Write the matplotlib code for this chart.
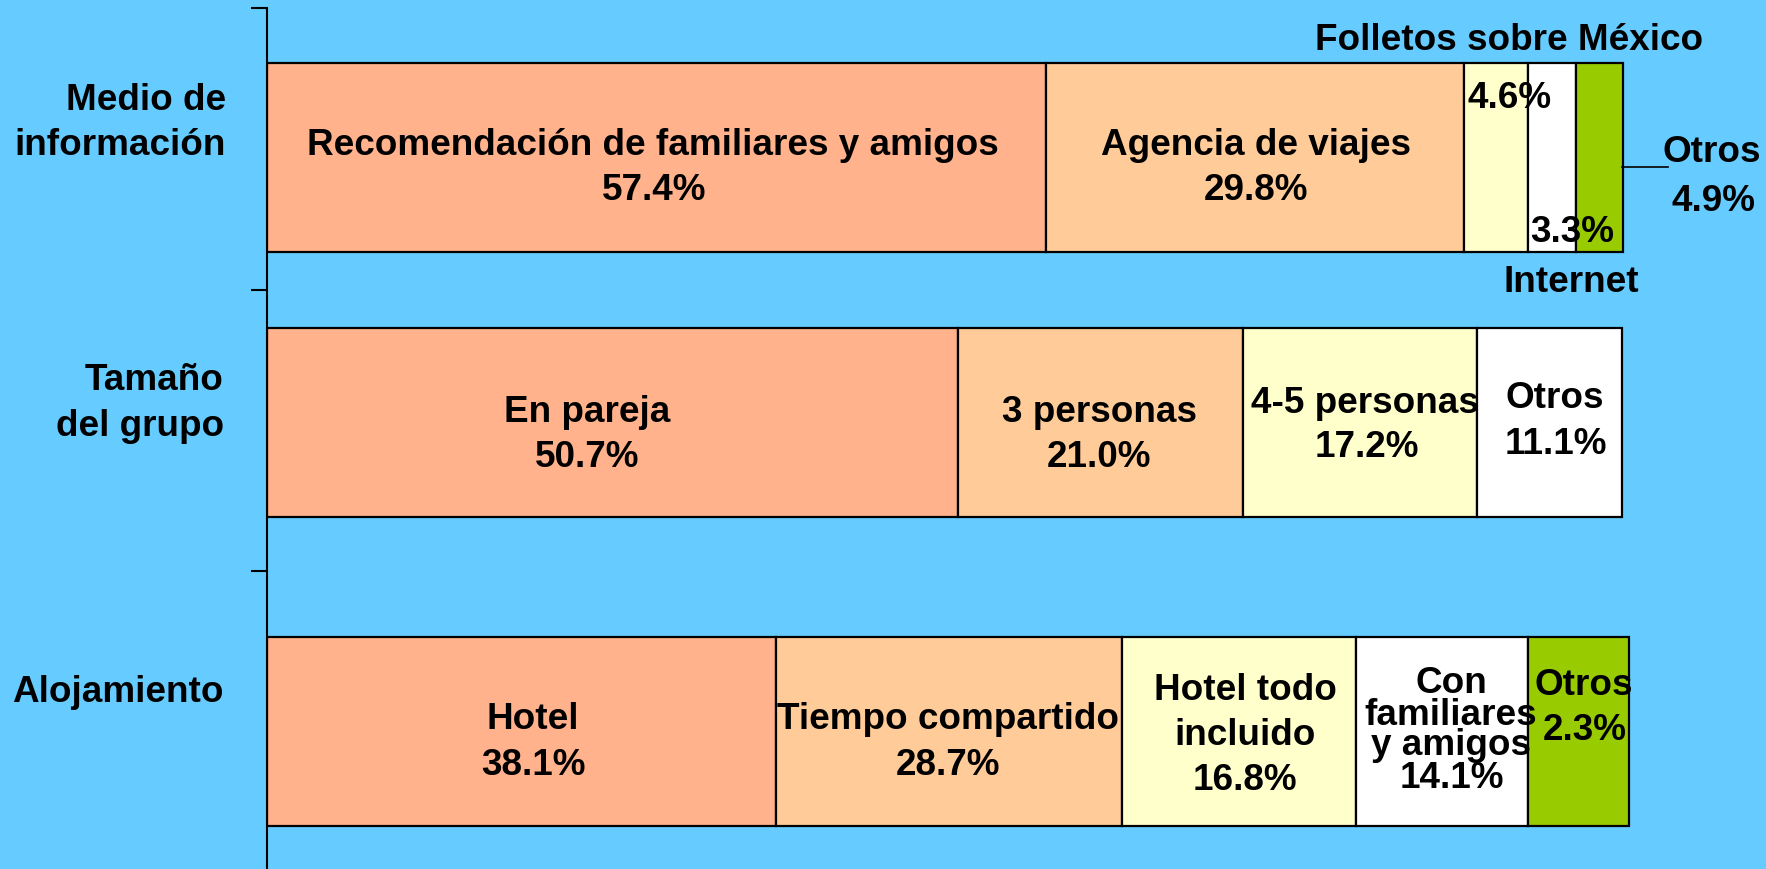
import matplotlib
matplotlib.use("Agg")
import matplotlib.pyplot as plt
from matplotlib.lines import Line2D
import numpy as np

# ---------------- data ----------------
categories = ["Medio de\ninformación", "Tamaño\ndel grupo", "Alojamiento"]

info_labels = ["Recomendación de familiares y amigos", "Agencia de viajes",
               "Folletos sobre México", "Internet", "Otros"]
info_pct = ["57.4%", "29.8%", "4.6%", "3.3%", "4.9%"]
info_widths = [57.4, 30.8, 4.7, 3.5, 3.5]          # bar lengths as drawn

group_labels = ["En pareja", "3 personas", "4-5 personas", "Otros"]
group_pct = ["50.7%", "21.0%", "17.2%", "11.1%"]
group_widths = [50.9, 21.0, 17.2, 10.7]            # bar lengths as drawn

lodging_labels = ["Hotel", "Tiempo compartido", "Hotel todo\nincluido",
                  "Con\nfamiliares\ny amigos", "Otros"]
lodging_pct = ["38.1%", "28.7%", "16.8%", "14.1%", "2.3%"]
lodging_widths = [37.5, 25.5, 17.2, 12.7, 7.4]      # bar lengths as drawn

# ---------------- style / layout ----------------
W, H, DPI = 1766, 869, 100
BG = "#66CCFF"
SALMON, PEACH, CREAM, WHITE, GREEN = "#FFB28C", "#FFCC99", "#FFFFCC", "#FFFFFF", "#99CC00"
info_colors = [SALMON, PEACH, CREAM, WHITE, GREEN]
group_colors = [SALMON, PEACH, CREAM, WHITE]
lodging_colors = [SALMON, PEACH, CREAM, WHITE, GREEN]

FONT = ["Liberation Sans", "DejaVu Sans"]
FS = 26.6

PX_PER_UNIT = 13.575        # pixels per percentage point
AX_LEFT_PX = 267
AX_TOP_PX = 8
ROW_PX = 281.5
bar_y = [0.531, 1.472, 2.570]
bar_h = 0.671

fig = plt.figure(figsize=(W / DPI, H / DPI), dpi=DPI, facecolor=BG)
ax = fig.add_axes([AX_LEFT_PX / W, 0, 1 - AX_LEFT_PX / W, (H - AX_TOP_PX) / H])
ax.set_facecolor("none")
ax.set_xlim(0, (W - AX_LEFT_PX) / PX_PER_UNIT)
ax.set_ylim((H - AX_TOP_PX) / ROW_PX, 0)

rows = [(info_widths, info_colors), (group_widths, group_colors), (lodging_widths, lodging_colors)]
for yc, (widths, colors) in zip(bar_y, rows):
    lefts = np.concatenate([[0], np.cumsum(widths)[:-1]])
    ax.barh([yc] * len(widths), widths, left=lefts, height=bar_h,
            color=colors, edgecolor="black", linewidth=1.6, zorder=2)

for s in ["top", "right", "bottom"]:
    ax.spines[s].set_visible(False)
ax.spines["left"].set_linewidth(1.5)
ax.spines["left"].set_zorder(3)
ax.set_xticks([])
ax.set_yticks([0, 1, 2])
ax.set_yticklabels([])
ax.tick_params(axis="y", direction="out", length=11.5, width=1.5, color="black")


def put(text, x, y, ha="center"):
    fig.text(x / W, 1 - y / H, text, ha=ha, va="baseline", fontsize=FS,
             fontweight="bold", family=FONT, color="black", zorder=5)


def put_lines(text, x, baselines, ha="center"):
    for line, b in zip(text.split("\n"), baselines):
        put(line, x, b, ha)


# category labels
cat_pos = [(226, [110, 155]), (224, [390, 436]), (224, [702])]
for name, (x, bl) in zip(categories, cat_pos):
    put_lines(name, x, bl, ha="right")

# label positions (pixels): (x, baselines, ha)
info_name_pos = [(653, [155], "center"), (1256, [155], "center"), (1509, [50], "center"),
                 (1571, [292], "center"), (1712, [162], "center")]
info_pct_pos = [(654, [200], "center"), (1256, [200], "center"), (1467, [108], "left"),
                (1530, [242], "left"), (1713, [211], "center")]

group_name_pos = [(587, [422], "center"), (1099, [422], "center"),
                  (1365, [413], "center"), (1555, [408], "center")]
group_pct_pos = [(587, [467], "center"), (1099, [467], "center"),
                 (1367, [457], "center"), (1556, [454], "center")]

lodging_name_pos = [(533, [729], "center"), (948, [729], "center"),
                    (1245, [700, 745], "center"), (1451, [693, 725, 755], "center"),
                    (1584, [695], "center")]
lodging_pct_pos = [(533, [775], "center"), (948, [775], "center"), (1245, [790], "center"),
                   (1452, [788], "center"), (1585, [740], "center")]

for labels, pcts, npos, ppos in [
    (info_labels, info_pct, info_name_pos, info_pct_pos),
    (group_labels, group_pct, group_name_pos, group_pct_pos),
    (lodging_labels, lodging_pct, lodging_name_pos, lodging_pct_pos),
]:
    for lab, pct, (nx, nb, nha), (px_, pb, pha) in zip(labels, pcts, npos, ppos):
        put_lines(lab, nx, nb, nha)
        put_lines(pct, px_, pb, pha)

# leader line for "Otros 4.9%"
fig.add_artist(Line2D([1622 / W, 1668 / W], [1 - 167 / H, 1 - 167 / H],
                      color="black", linewidth=1.2, zorder=4))

fig.savefig("out.png", dpi=DPI, facecolor=BG)
